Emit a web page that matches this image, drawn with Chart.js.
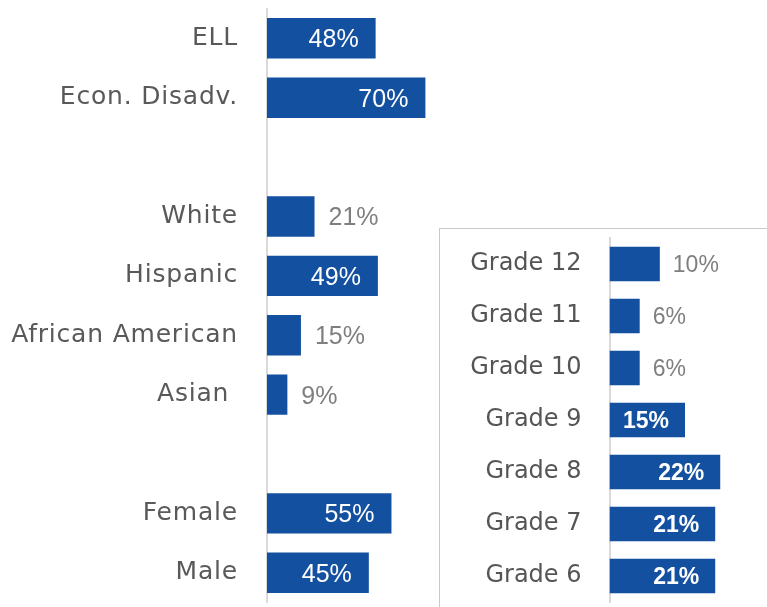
<!DOCTYPE html>
<html>
<head>
<meta charset="utf-8">
<script src="https://cdn.jsdelivr.net/npm/chart.js@4/dist/chart.umd.min.js"></script>
<style>
  body { margin: 0; background: #fff; overflow: hidden; }
  #wrap { position: relative; width: 767px; height: 607px; }
  #demo { position: absolute; left: 0; top: 0; }
  #gradeBox {
    position: absolute; left: 439px; top: 228px; width: 328px; height: 379px;
    border-top: 1px solid #c8c8c8; border-left: 1px solid #c8c8c8; background: #fff;
  }
  #grades { position: absolute; left: 0; top: 0; }
</style>
</head>
<body>
<div id="wrap">
  <canvas id="demo" width="767" height="607"></canvas>
  <div id="gradeBox"><canvas id="grades" width="327" height="378"></canvas></div>
</div>
<script>
// demographic groups (blank rows are the gaps between groups)
const groupLabels = ['ELL', 'Econ. Disadv.', '', 'White', 'Hispanic', 'African American', 'Asian ', '', 'Female', 'Male'];
const groupValues = [48, 70, null, 21, 49, 15, 9, null, 55, 45];

// grade breakdown
const gradeLabels = ['Grade 12', 'Grade 11', 'Grade 10', 'Grade 9', 'Grade 8', 'Grade 7', 'Grade 6'];
const gradeValues = [10, 6, 6, 15, 22, 21, 21];

const BLUE = '#1350a0';

// draws "NN%" at the end of each bar, inside (white) when the bar is long enough
function valueLabels(opts) {
  return {
    id: 'valueLabels',
    beforeDraw(chart) {
      // a little tracking on the axis labels, like the original font
      chart.ctx.letterSpacing = opts.tracking;
    },
    afterDatasetsDraw(chart) {
      const ctx = chart.ctx;
      const meta = chart.getDatasetMeta(0);
      const values = chart.data.datasets[0].data;
      ctx.save();
      ctx.letterSpacing = '0px';
      ctx.textBaseline = 'middle';
      meta.data.forEach((bar, i) => {
        const v = values[i];
        if (v === null || v === undefined) return;
        const text = v + '%';
        if (v >= opts.threshold) {
          ctx.font = opts.insideFont;
          ctx.fillStyle = '#ffffff';
          ctx.textAlign = 'right';
          ctx.fillText(text, bar.x - opts.insidePad, bar.y + 2);
        } else {
          ctx.font = opts.outsideFont;
          ctx.fillStyle = '#7f7f7f';
          ctx.textAlign = 'left';
          ctx.fillText(text, bar.x + opts.outsidePad, bar.y + 2);
        }
      });
      ctx.restore();
    }
  };
}

function barChart(canvasId, labels, values, cfg) {
  return new Chart(document.getElementById(canvasId), {
    type: 'bar',
    data: {
      labels: labels,
      datasets: [{
        data: values,
        backgroundColor: BLUE,
        borderWidth: 0,
        categoryPercentage: 1,
        barPercentage: cfg.barPct
      }]
    },
    options: {
      indexAxis: 'y',
      responsive: false,
      animation: false,
      layout: { padding: cfg.padding, autoPadding: false },
      plugins: { legend: { display: false }, tooltip: { enabled: false } },
      scales: {
        x: { display: false, min: 0, max: cfg.max },
        y: {
          afterFit: (scale) => {
            scale.width = cfg.axisWidth;
            scale.paddingTop = 0;
            scale.paddingBottom = 0;
          },
          grid: { display: false, drawTicks: false },
          border: { display: true, color: '#d9d9d9', width: 2 },
          ticks: {
            color: cfg.tickColor,
            padding: cfg.tickPad,
            autoSkip: false,
            font: cfg.tickFont
          }
        }
      }
    },
    plugins: [valueLabels(cfg.labels)]
  });
}

barChart('demo', groupLabels, groupValues, {
  barPct: 0.68,
  max: 100,
  axisWidth: 267,
  tickPad: 29,
  tickColor: '#595959',
  tickFont: { family: 'DejaVu Sans', size: 25 },
  padding: { top: 8.6, bottom: 4.5, left: 0, right: 273.7 },
  labels: {
    tracking: '0.8px',
    threshold: 30,
    insideFont: '25px "Liberation Sans"',
    outsideFont: '25px "Liberation Sans"',
    insidePad: 17,
    outsidePad: 14
  }
});

barChart('grades', gradeLabels, gradeValues, {
  barPct: 0.66,
  max: 30,
  axisWidth: 169.5,
  tickPad: 28,
  tickColor: '#555555',
  tickFont: { family: 'DejaVu Sans', size: 24 },
  padding: { top: 9, bottom: 5, left: 0, right: 6.5 },
  labels: {
    tracking: '0px',
    threshold: 12,
    insideFont: 'bold 23px "Liberation Sans"',
    outsideFont: '23px "Liberation Sans"',
    insidePad: 16,
    outsidePad: 13
  }
});
</script>
</body>
</html>
